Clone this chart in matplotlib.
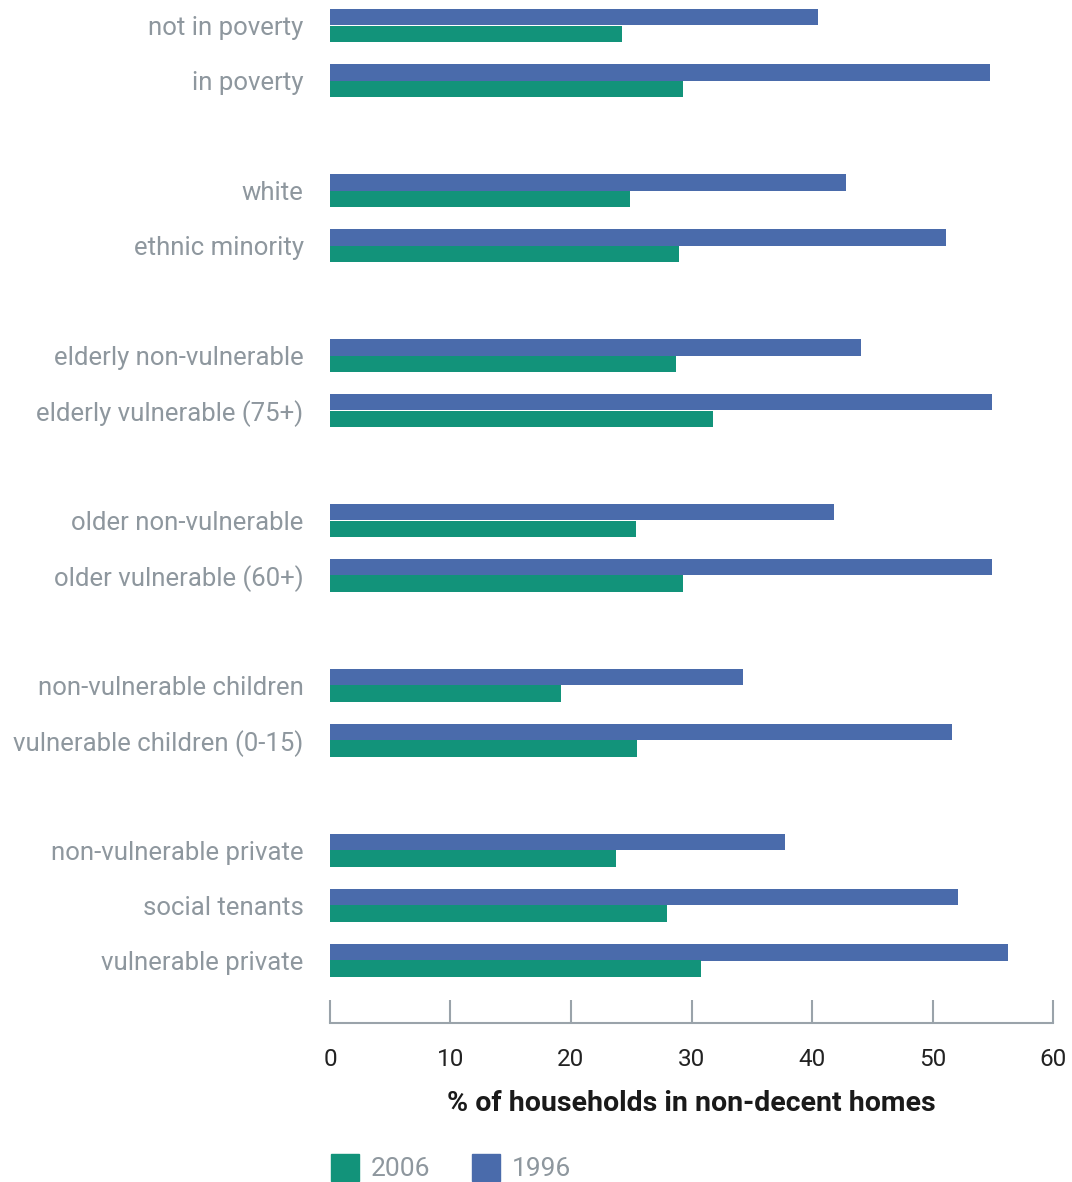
import numpy as np
import matplotlib
matplotlib.use("Agg")
import matplotlib.pyplot as plt
from matplotlib.patches import Patch

categories = ["not in poverty", "in poverty",
              "white", "ethnic minority",
              "elderly non-vulnerable", "elderly vulnerable (75+)",
              "older non-vulnerable", "older vulnerable (60+)",
              "non-vulnerable children", "vulnerable children (0-15)",
              "non-vulnerable private", "social tenants", "vulnerable private"]
vals_1996 = [40.5, 54.8, 42.8, 51.1, 44.1, 54.9, 41.8, 54.9, 34.3, 51.6, 37.8, 52.1, 56.3]
vals_2006 = [24.2, 29.3, 24.9, 29.0, 28.7, 31.8, 25.4, 29.3, 19.2, 25.5, 23.7, 28.0, 30.8]
# group membership, a blank row goes between groups
groups = [0, 0, 1, 1, 2, 2, 3, 3, 4, 4, 5, 5, 5]

blue = "#4a6bab"
green = "#12937a"
grey = "#8e979e"
spine = "#9aa3aa"

plt.rcParams['font.family'] = ['Roboto', 'DejaVu Sans']

pos = np.arange(len(categories)) + np.array(groups)

fig = plt.figure(figsize=(10.72, 11.82), dpi=100)
ax = fig.add_axes([330 / 1072, 1 - 1023 / 1182, (1053 - 330) / 1072, 1023 / 1182])

h = 0.3
ax.barh(pos - h / 2, vals_1996, height=h, color=blue, label="1996")
ax.barh(pos + h / 2, vals_2006, height=h, color=green, label="2006")

ax.set_xlim(0, 60)
ax.set_ylim((1023 - 25.5) / 55, -25.5 / 55)
ax.set_yticks(pos)
ax.set_yticklabels(categories, fontsize=18.5, color=grey)
ax.tick_params(axis="y", length=0, pad=19)
ax.set_xticks(range(0, 61, 10))
ax.tick_params(axis="x", direction="in", length=16.5, width=1.5, color=spine,
               labelsize=17.5, labelcolor="#222222", pad=18)
for s in ["top", "right", "left"]:
    ax.spines[s].set_visible(False)
ax.spines["bottom"].set_color(spine)
ax.spines["bottom"].set_linewidth(1.5)

ax.set_xlabel("% of households in non-decent homes", fontsize=20.5, fontweight="bold",
              color="#1a1a1a", labelpad=14)

handles = [Patch(color=green, label="2006"), Patch(color=blue, label="1996")]
leg = fig.legend(handles=handles, loc="lower left", bbox_to_anchor=(331 / 1072, 1 / 1182),
                 ncol=2, frameon=False, fontsize=19, handlelength=1.05, handleheight=1.2,
                 handletextpad=0.45, columnspacing=1.6, borderpad=0, borderaxespad=0)
for t in leg.get_texts():
    t.set_color(grey)

fig.savefig("out.png", dpi=100)
